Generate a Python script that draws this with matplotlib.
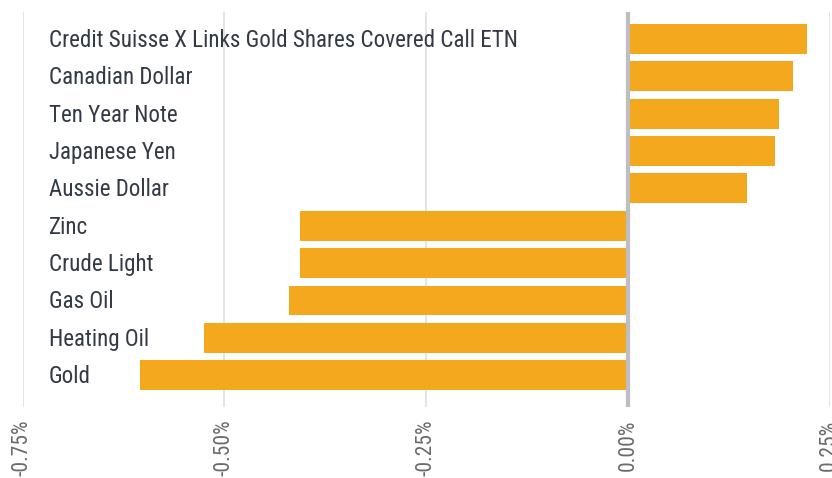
import matplotlib
matplotlib.use('Agg')
import matplotlib.pyplot as plt
from matplotlib import font_manager as fm
from matplotlib.ticker import FuncFormatter

names = ['Credit Suisse X Links Gold Shares Covered Call ETN', 'Canadian Dollar',
         'Ten Year Note', 'Japanese Yen', 'Aussie Dollar', 'Zinc', 'Crude Light',
         'Gas Oil', 'Heating Oil', 'Gold']
values = [0.2226, 0.205, 0.188, 0.183, 0.148, -0.4067, -0.4067, -0.420, -0.525, -0.6045]
ticks = [-0.75, -0.50, -0.25, 0.00, 0.25]

installed = {f.name for f in fm.fontManager.ttflist}


def pick(*cands):
    for c in cands:
        if c in installed:
            return c
    return 'DejaVu Sans'


label_font = pick('Roboto Condensed', 'Liberation Sans Narrow', 'Roboto')
tick_font = pick('Roboto Condensed', 'Liberation Sans Narrow', 'Liberation Sans')

fig = plt.figure(figsize=(8.32, 4.78), dpi=100)
ax = fig.add_axes([22.5 / 832, 1 - 407 / 478, 807 / 832, 395 / 478])

pos = list(range(len(names)))[::-1]
ax.barh(pos, values, height=0.8, color='#f4a81d', zorder=2)
ax.axvline(0, color='#bdbdc2', lw=3, zorder=3)

for p, n in zip(pos, names):
    ax.text(26.5 / 807, p - 0.04, n, transform=ax.get_yaxis_transform(), va='center', ha='left',
            fontsize=16.6, color='#333a45', family=label_font, zorder=4)

ax.set_xlim(-0.75, 0.25)
ax.set_ylim(-0.85, 9.72)
ax.set_xticks(ticks)
ax.xaxis.set_major_formatter(FuncFormatter(lambda v, _: f'{v:.2f}%'))
ax.grid(axis='x', color='#e2e2e2', lw=1.3, zorder=0)
ax.set_yticks([])
ax.tick_params(axis='x', length=0, pad=9, labelsize=15.5, labelcolor='#6a6a6a', rotation=90)
for t in ax.get_xticklabels():
    t.set_family(tick_font)
for s in ax.spines.values():
    s.set_visible(False)

fig.savefig('out.png', dpi=100)
